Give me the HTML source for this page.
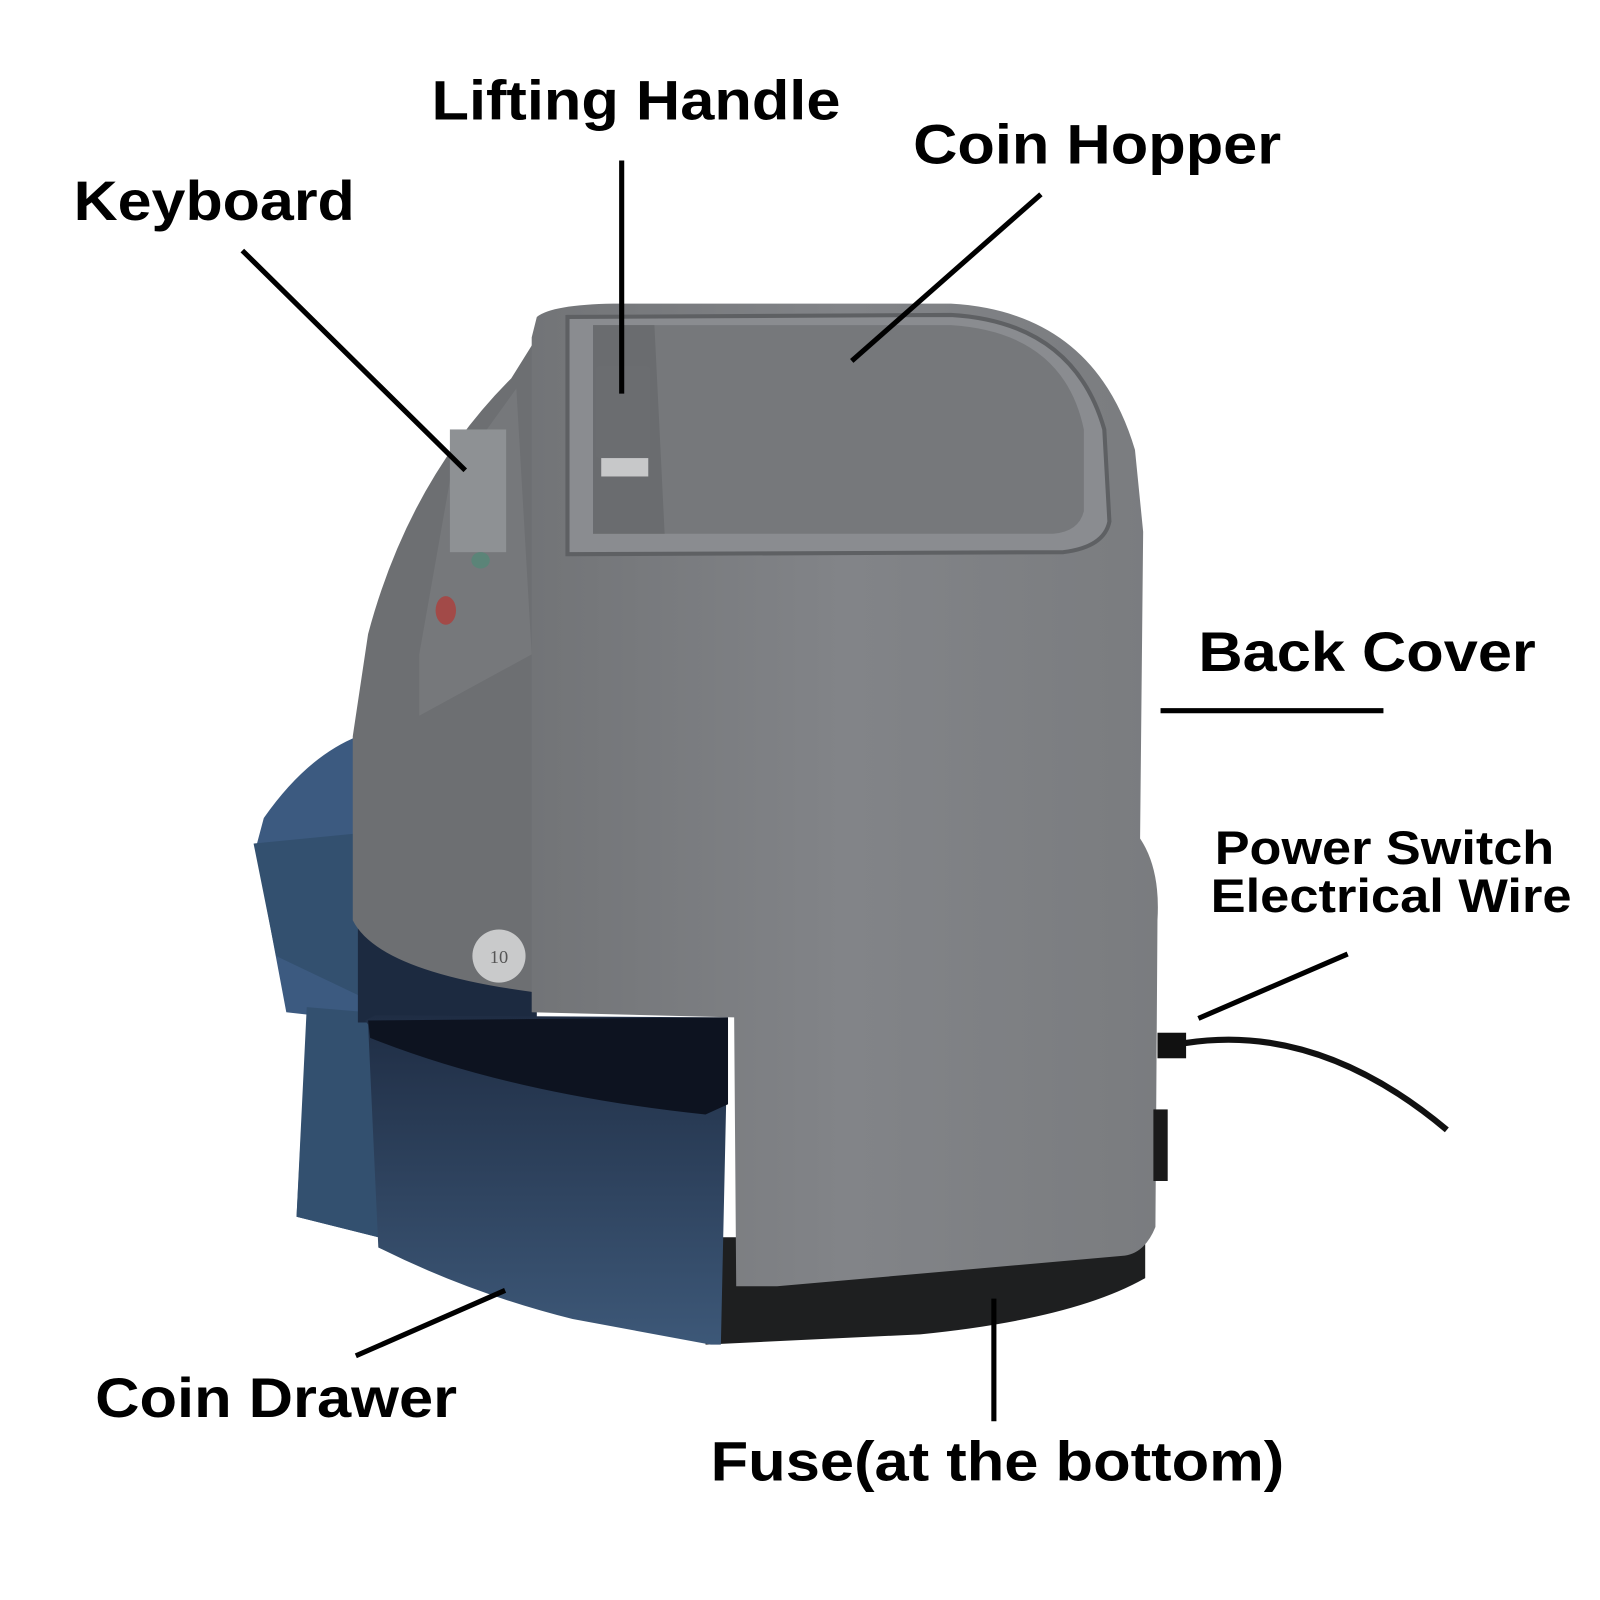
<!DOCTYPE html>
<html><head><meta charset="utf-8"><style>html,body{margin:0;padding:0;background:#fff}svg{display:block}</style></head>
<body>
<svg width="1600" height="1600" viewBox="0 0 1600 1600" xmlns="http://www.w3.org/2000/svg" font-family="Liberation Sans, Arial, sans-serif" font-weight="bold">
<defs>
<linearGradient id="body" x1="0" x2="1"><stop offset="0" stop-color="#727477"/><stop offset="0.5" stop-color="#828488"/><stop offset="1" stop-color="#7a7c7f"/></linearGradient>
<linearGradient id="blue" x1="0" y1="0" x2="0" y2="1"><stop offset="0" stop-color="#1f2d44"/><stop offset="1" stop-color="#3d5878"/></linearGradient>
</defs>
<g transform="scale(1.0225)">
<path d="M258,800 Q300,740 350,720 L360,1000 L300,1000 L290,1190 L370,1210 L370,1000 L280,990 L250,830 Z" fill="#3c5a80"/>
<path d="M248,825 L350,815 L360,990 L300,985 L290,1190 L370,1210 L375,985 L270,935 Z" fill="#33506f"/>
<path d="M350,900 L525,960 L525,1000 L350,1000 Z" fill="#1c2a40"/>
<path d="M690,1210 L1120,1210 L1120,1250 Q1050,1290 900,1305 L690,1315 Z" fill="#1e1f20"/>
<path d="M525,330 L500,370 Q400,470 360,620 L345,720 L345,900 Q370,950 520,970 L540,970 L540,330 Z" fill="#6d6f72"/>
<path d="M505,380 L440,470 L410,640 L410,700 L520,640 Z" fill="#76787b"/>
<rect x="440" y="420" width="55" height="120" fill="#8e9194"/>
<ellipse cx="436" cy="597" rx="10" ry="14" fill="#a24a48"/>
<ellipse cx="470" cy="548" rx="9" ry="8" fill="#5b8478"/>
<circle cx="488" cy="935" r="26" fill="#c9cacb"/>
<text x="488" y="942" font-family="Liberation Serif, serif" font-size="18" text-anchor="middle" fill="#555" font-weight="normal">10</text>
<path d="M525,310 Q540,298 600,297 L930,297 Q1070,305 1110,440 L1118,520 L1115,820 Q1135,850 1132,900 L1130,1200 Q1120,1225 1100,1228 L760,1258 L720,1258 L718,995 L520,990 L520,330 Z" fill="url(#body)"/>
<path d="M555,310 L930,308 Q1050,315 1080,420 L1085,510 Q1080,535 1040,540 L555,542 Z" fill="#8a8c90" stroke="#5e6063" stroke-width="4"/>
<path d="M580,318 L930,318 Q1040,325 1060,420 L1060,500 Q1055,520 1030,522 L580,522 Z" fill="#76787b"/>
<path d="M580,318 L640,318 L650,522 L580,522 Z" fill="#6a6c6f"/>
<rect x="582" y="358" width="54" height="90" rx="4" fill="#6b6d70"/>
<rect x="588" y="448" width="46" height="18" fill="#c7c8c9"/>
<path d="M357,998 L360,1002 L370,1220 Q460,1265 560,1290 L695,1315 L705,1315 L712,995 L367,993 Z" fill="url(#blue)"/>
<path d="M360,998 L712,995 L712,1080 L690,1090 Q500,1070 362,1015 Z" fill="#0d1320"/>
<rect x="1128" y="1085" width="14" height="70" fill="#1a1a1a"/>
<path d="M1135,1020 L1160,1020 Q1290,1000 1415,1105" fill="none" stroke="#111" stroke-width="6"/>
<rect x="1132" y="1010" width="28" height="25" fill="#111"/>
<g stroke="#000" stroke-width="5" fill="none">
<line x1="237" y1="245" x2="455" y2="460"/>
<line x1="608" y1="157" x2="608" y2="385"/>
<line x1="1018" y1="190" x2="833" y2="353"/>
<line x1="1135" y1="695" x2="1353" y2="695"/>
<line x1="1318" y1="933" x2="1172" y2="996"/>
<line x1="348" y1="1326" x2="494" y2="1262"/>
<line x1="972" y1="1270" x2="972" y2="1390"/>
</g>
<g fill="#000">
<text x="422" y="117" font-size="54" textLength="400" lengthAdjust="spacingAndGlyphs">Lifting Handle</text>
<text x="893" y="160" font-size="54" textLength="360" lengthAdjust="spacingAndGlyphs">Coin Hopper</text>
<text x="72" y="215" font-size="54" textLength="275" lengthAdjust="spacingAndGlyphs">Keyboard</text>
<text x="1172" y="656" font-size="54" textLength="330" lengthAdjust="spacingAndGlyphs">Back Cover</text>
<text x="1188" y="845" font-size="46" textLength="332" lengthAdjust="spacingAndGlyphs">Power Switch</text>
<text x="1184" y="892" font-size="46" textLength="353" lengthAdjust="spacingAndGlyphs">Electrical Wire</text>
<text x="93" y="1386" font-size="54" textLength="354" lengthAdjust="spacingAndGlyphs">Coin Drawer</text>
<text x="695" y="1448" font-size="54" textLength="561" lengthAdjust="spacingAndGlyphs">Fuse(at the bottom)</text>
</g>
</g>
</svg>
</body></html>
